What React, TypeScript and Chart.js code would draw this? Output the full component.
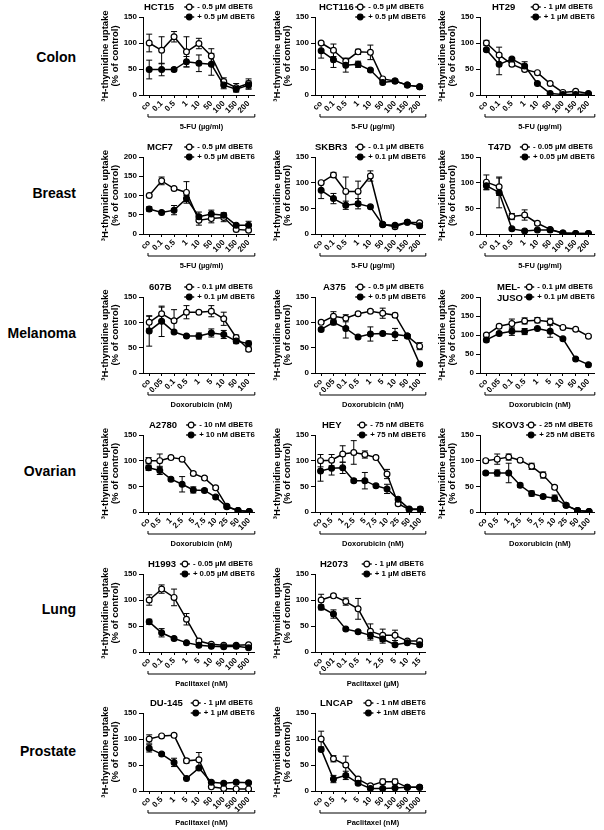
import React, { useEffect, useRef } from "react";
import { Chart, registerables } from "chart.js";
Chart.register(...registerables);
Chart.defaults.color = "#000";
Chart.defaults.font.family = "'Liberation Sans', Arial, sans-serif";

// ---------- categories ----------
const fuDoses = ["co", "0.1", "0.5", "1", "10", "50", "100", "150", "200"];
const melDoses = ["co", "0.05", "0.1", "0.5", "1", "5", "10", "50", "100"];
const ovDoses = ["co", "0.5", "1", "2.5", "5", "7.5", "10", "25", "50", "100"];
const h1993Doses = ["co", "0.1", "0.5", "1", "5", "10", "50", "100", "500"];
const h2073Doses = ["co", "0.01", "0.1", "0.5", "1", "2.5", "5", "10", "15"];
const prostateDoses = ["co", "0.5", "1", "5", "10", "50", "100", "500", "1000"];

// ---------- Colon ----------
const hct15Minus = [100, 86, 112, 83, 99, 75, 26, 14, 22];
const hct15MinusSd = [17, 26, 10, 29, 10, 14, 7, 8, 9];
const hct15Plus = [49, 49, 49, 64, 61, 59, 19, 11, 19];
const hct15PlusSd = [18, 12, 3, 10, 16, 21, 7, 5, 8];

const hct116Minus = [100, 86, 65, 83, 82, 31, 27, 19, 16];
const hct116MinusSd = [2, 12, 6, 5, 14, 3, 3, 2, 2];
const hct116Plus = [85, 68, 57, 59, 48, 24, 27, 19, 16];
const hct116PlusSd = [14, 15, 13, 6, 2, 3, 3, 2, 2];

const ht29Minus = [100, 77, 59, 49, 43, 22, 5, 7, 3];
const ht29MinusSd = [5, 15, 3, 3, 2, 2, 2, 2, 1];
const ht29Plus = [87, 59, 69, 56, 22, 3, 1, 1, 2];
const ht29PlusSd = [3, 20, 3, 8, 2, 1, 1, 1, 1];

// ---------- Breast ----------
const mcf7Minus = [100, 138, 118, 108, 36, 40, 43, 12, 10];
const mcf7MinusSd = [3, 10, 3, 28, 13, 11, 11, 4, 3];
const mcf7Plus = [65, 56, 62, 92, 45, 52, 49, 23, 23];
const mcf7PlusSd = [6, 3, 12, 8, 12, 10, 6, 4, 10];

const skbr3Minus = [100, 115, 83, 83, 113, 19, 14, 23, 22];
const skbr3MinusSd = [2, 5, 28, 20, 10, 3, 3, 2, 2];
const skbr3Plus = [85, 69, 56, 59, 53, 18, 17, 23, 16];
const skbr3PlusSd = [16, 10, 8, 10, 2, 3, 3, 2, 2];

const t47dMinus = [101, 92, 34, 37, 21, 9, 2, 1, 1];
const t47dMinusSd = [14, 17, 6, 10, 3, 2, 1, 1, 1];
const t47dPlus = [94, 81, 10, 6, 8, 8, 2, 1, 1];
const t47dPlusSd = [8, 30, 2, 1, 1, 1, 1, 1, 1];

// ---------- Melanoma ----------
const b607Minus = [100, 117, 103, 120, 120, 122, 107, 70, 47];
const b607MinusSd = [12, 13, 22, 13, 3, 11, 13, 5, 4];
const b607Plus = [83, 102, 81, 73, 73, 79, 76, 63, 58];
const b607PlusSd = [30, 30, 3, 3, 6, 8, 8, 5, 5];

const a375Minus = [100, 112, 108, 117, 122, 118, 114, 73, 53];
const a375MinusSd = [2, 9, 7, 3, 3, 10, 4, 3, 7];
const a375Plus = [86, 100, 88, 71, 77, 78, 76, 73, 18];
const a375PlusSd = [3, 5, 19, 3, 14, 3, 12, 3, 2];

const meljusoMinus = [100, 123, 130, 137, 139, 135, 120, 115, 97];
const meljusoMinusSd = [3, 5, 12, 8, 7, 9, 3, 3, 3];
const meljusoPlus = [87, 104, 110, 109, 117, 110, 90, 37, 22];
const meljusoPlusSd = [5, 4, 11, 8, 3, 16, 3, 3, 3];

// ---------- Ovarian ----------
const a2780Minus = [100, 100, 106, 103, 75, 66, 47, 11, 3, 1];
const a2780MinusSd = [6, 13, 3, 3, 3, 3, 3, 3, 2, 1];
const a2780Plus = [86, 81, 64, 54, 43, 42, 29, 10, 3, 1];
const a2780PlusSd = [5, 8, 3, 15, 6, 3, 3, 3, 2, 1];

const heyMinus = [100, 101, 113, 116, 112, 106, 74, 16, 5, 5];
const heyMinusSd = [12, 11, 16, 23, 7, 3, 9, 3, 2, 2];
const heyPlus = [80, 85, 86, 61, 61, 51, 45, 25, 6, 6];
const heyPlusSd = [20, 13, 11, 3, 16, 3, 9, 3, 2, 4];

const skov3Minus = [100, 103, 107, 101, 89, 72, 48, 13, 3, 1];
const skov3MinusSd = [3, 10, 6, 3, 6, 6, 3, 3, 2, 1];
const skov3Plus = [76, 76, 76, 52, 36, 30, 27, 13, 3, 1];
const skov3PlusSd = [3, 6, 19, 4, 5, 3, 6, 3, 2, 1];

// ---------- Lung ----------
const h1993Minus = [100, 121, 105, 63, 21, 15, 13, 13, 14];
const h1993MinusSd = [10, 8, 16, 11, 3, 2, 2, 2, 2];
const h1993Plus = [58, 37, 26, 18, 13, 11, 10, 11, 8];
const h1993PlusSd = [5, 8, 2, 2, 2, 2, 2, 2, 2];

const h2073Minus = [100, 108, 97, 83, 40, 32, 32, 21, 21];
const h2073MinusSd = [11, 3, 7, 20, 14, 12, 10, 3, 3];
const h2073Plus = [86, 73, 44, 39, 32, 25, 14, 18, 14];
const h2073PlusSd = [5, 8, 2, 2, 9, 8, 3, 3, 3];

// ---------- Prostate ----------
const du145Minus = [100, 106, 107, 58, 60, 8, 5, 4, 4];
const du145MinusSd = [8, 2, 2, 4, 14, 2, 2, 2, 2];
const du145Plus = [82, 71, 55, 24, 44, 17, 15, 17, 16];
const du145PlusSd = [7, 3, 8, 2, 3, 2, 2, 2, 2];

const lncapMinus = [100, 62, 50, 23, 10, 18, 18, 7, 7];
const lncapMinusSd = [15, 6, 17, 3, 3, 5, 5, 2, 2];
const lncapPlus = [80, 23, 30, 15, 5, 5, 6, 7, 7];
const lncapPlusSd = [3, 7, 8, 3, 2, 2, 2, 2, 2];

// ---------- text ----------
const rowLabels = ["Colon", "Breast", "Melanoma", "Ovarian", "Lung", "Prostate"];
const yTitle = ["\u00B3H-thymidine uptake", "(% of control)"];

// ---------- layout ----------
const colL = [143, 315, 480];
const colR = [255, 426, 595];
const rowT = [17, 157, 297, 435, 574, 713];
const rowB = [95, 234, 373, 512, 652, 791];
const rowLabelY = [57, 193, 333, 471, 609, 751];

type Panel = {
  name: string[];
  cats: string[];
  minus: number[];
  minusSd: number[];
  plus: number[];
  plusSd: number[];
  legMinus: string;
  legPlus: string;
  xTitle: string;
  yMax: number;
  row: number;
  col: number;
  titleDx: number;
};

const panels: Panel[] = [
  { name: ["HCT15"], cats: fuDoses, minus: hct15Minus, minusSd: hct15MinusSd, plus: hct15Plus, plusSd: hct15PlusSd, legMinus: "- 0.5 \u00B5M dBET6", legPlus: "+ 0.5 \u00B5M dBET6", xTitle: "5-FU (\u00B5g/ml)", yMax: 150, row: 0, col: 0, titleDx: 1 },
  { name: ["HCT116"], cats: fuDoses, minus: hct116Minus, minusSd: hct116MinusSd, plus: hct116Plus, plusSd: hct116PlusSd, legMinus: "- 0.5 \u00B5M dBET6", legPlus: "+ 0.5 \u00B5M dBET6", xTitle: "5-FU (\u00B5g/ml)", yMax: 150, row: 0, col: 1, titleDx: 4 },
  { name: ["HT29"], cats: fuDoses, minus: ht29Minus, minusSd: ht29MinusSd, plus: ht29Plus, plusSd: ht29PlusSd, legMinus: "- 1 \u00B5M dBET6", legPlus: "+ 1 \u00B5M dBET6", xTitle: "5-FU (\u00B5g/ml)", yMax: 150, row: 0, col: 2, titleDx: 12 },
  { name: ["MCF7"], cats: fuDoses, minus: mcf7Minus, minusSd: mcf7MinusSd, plus: mcf7Plus, plusSd: mcf7PlusSd, legMinus: "- 0.5 \u00B5M dBET6", legPlus: "+ 0.5 \u00B5M dBET6", xTitle: "5-FU (\u00B5g/ml)", yMax: 200, row: 1, col: 0, titleDx: 4 },
  { name: ["SKBR3"], cats: fuDoses, minus: skbr3Minus, minusSd: skbr3MinusSd, plus: skbr3Plus, plusSd: skbr3PlusSd, legMinus: "- 0.1 \u00B5M dBET6", legPlus: "+ 0.1 \u00B5M dBET6", xTitle: "5-FU (\u00B5g/ml)", yMax: 150, row: 1, col: 1, titleDx: 0 },
  { name: ["T47D"], cats: fuDoses, minus: t47dMinus, minusSd: t47dMinusSd, plus: t47dPlus, plusSd: t47dPlusSd, legMinus: "- 0.05 \u00B5M dBET6", legPlus: "+ 0.05 \u00B5M dBET6", xTitle: "5-FU (\u00B5g/ml)", yMax: 150, row: 1, col: 2, titleDx: 8 },
  { name: ["607B"], cats: melDoses, minus: b607Minus, minusSd: b607MinusSd, plus: b607Plus, plusSd: b607PlusSd, legMinus: "- 0.1 \u00B5M dBET6", legPlus: "+ 0.1 \u00B5M dBET6", xTitle: "Doxorubicin (nM)", yMax: 150, row: 2, col: 0, titleDx: 6 },
  { name: ["A375"], cats: melDoses, minus: a375Minus, minusSd: a375MinusSd, plus: a375Plus, plusSd: a375PlusSd, legMinus: "- 0.5 \u00B5M dBET6", legPlus: "+ 0.5 \u00B5M dBET6", xTitle: "Doxorubicin (nM)", yMax: 150, row: 2, col: 1, titleDx: 8 },
  { name: ["MEL-", "JUSO"], cats: melDoses, minus: meljusoMinus, minusSd: meljusoMinusSd, plus: meljusoPlus, plusSd: meljusoPlusSd, legMinus: "- 0.1 \u00B5M dBET6", legPlus: "+ 0.1 \u00B5M dBET6", xTitle: "Doxorubicin (nM)", yMax: 200, row: 2, col: 2, titleDx: 17 },
  { name: ["A2780"], cats: ovDoses, minus: a2780Minus, minusSd: a2780MinusSd, plus: a2780Plus, plusSd: a2780PlusSd, legMinus: "- 10 nM dBET6", legPlus: "+ 10 nM dBET6", xTitle: "Doxorubicin (nM)", yMax: 150, row: 3, col: 0, titleDx: 6 },
  { name: ["HEY"], cats: ovDoses, minus: heyMinus, minusSd: heyMinusSd, plus: heyPlus, plusSd: heyPlusSd, legMinus: "- 75 nM dBET6", legPlus: "+ 75 nM dBET6", xTitle: "Doxorubicin (nM)", yMax: 150, row: 3, col: 1, titleDx: 7 },
  { name: ["SKOV3"], cats: ovDoses, minus: skov3Minus, minusSd: skov3MinusSd, plus: skov3Plus, plusSd: skov3PlusSd, legMinus: "- 25 nM dBET6", legPlus: "+ 25 nM dBET6", xTitle: "Doxorubicin (nM)", yMax: 150, row: 3, col: 2, titleDx: 12 },
  { name: ["H1993"], cats: h1993Doses, minus: h1993Minus, minusSd: h1993MinusSd, plus: h1993Plus, plusSd: h1993PlusSd, legMinus: "- 0.05 \u00B5M dBET6", legPlus: "+ 0.05 \u00B5M dBET6", xTitle: "Paclitaxel (nM)", yMax: 150, row: 4, col: 0, titleDx: 5 },
  { name: ["H2073"], cats: h2073Doses, minus: h2073Minus, minusSd: h2073MinusSd, plus: h2073Plus, plusSd: h2073PlusSd, legMinus: "- 1 \u00B5M dBET6", legPlus: "+ 1 \u00B5M dBET6", xTitle: "Paclitaxel (\u00B5M)", yMax: 150, row: 4, col: 1, titleDx: 5 },
  { name: ["DU-145"], cats: prostateDoses, minus: du145Minus, minusSd: du145MinusSd, plus: du145Plus, plusSd: du145PlusSd, legMinus: "- 1 \u00B5M dBET6", legPlus: "+ 1 \u00B5M dBET6", xTitle: "Paclitaxel (nM)", yMax: 150, row: 5, col: 0, titleDx: 7 },
  { name: ["LNCAP"], cats: prostateDoses, minus: lncapMinus, minusSd: lncapMinusSd, plus: lncapPlus, plusSd: lncapPlusSd, legMinus: "- 1 nM dBET6", legPlus: "+ 1nM dBET6", xTitle: "Paclitaxel (nM)", yMax: 150, row: 5, col: 1, titleDx: 5 },
];

const FONT = "'Liberation Sans', Arial, sans-serif";
const Y_BOX = 48;
const X_BOX = 42;
const PAD_TOP = 17;
const PAD_RIGHT = 5;

function drawMarker(ctx: CanvasRenderingContext2D, cx: number, cy: number, open: boolean) {
  ctx.beginPath();
  ctx.moveTo(cx - 5, cy);
  ctx.lineTo(cx + 5, cy);
  ctx.lineWidth = 1.4;
  ctx.strokeStyle = "#000";
  ctx.stroke();
  ctx.beginPath();
  ctx.arc(cx, cy, 2.8, 0, Math.PI * 2);
  ctx.fillStyle = open ? "#fff" : "#000";
  ctx.fill();
  ctx.lineWidth = 1.2;
  ctx.stroke();
}

function PanelChart({ p }: { p: Panel }) {
  const ref = useRef<HTMLCanvasElement>(null);
  const L = colL[p.col];
  const R = colR[p.col];
  const T = rowT[p.row];
  const B = rowB[p.row];
  const left = L - Y_BOX;
  const top = T - PAD_TOP;
  const width = R - L + Y_BOX + PAD_RIGHT;
  const height = B - T + PAD_TOP + X_BOX;

  useEffect(() => {
    const sds = [p.plusSd, p.minusSd];
    const decor = {
      id: "decor",
      beforeDatasetsDraw(chart: any) {
        const ctx = chart.ctx as CanvasRenderingContext2D;
        const ys = chart.scales.y;
        ctx.save();
        ctx.strokeStyle = "#000";
        ctx.lineWidth = 1;
        chart.data.datasets.forEach((ds: any, i: number) => {
          const meta = chart.getDatasetMeta(i);
          ds.data.forEach((v: number, j: number) => {
            const e = sds[i][j];
            const x = meta.data[j].x;
            const y1 = ys.getPixelForValue(v + e);
            const y2 = ys.getPixelForValue(Math.max(v - e, 0));
            ctx.beginPath();
            ctx.moveTo(x, y1);
            ctx.lineTo(x, y2);
            ctx.moveTo(x - 3, y1);
            ctx.lineTo(x + 3, y1);
            ctx.moveTo(x - 3, y2);
            ctx.lineTo(x + 3, y2);
            ctx.stroke();
          });
        });
        ctx.restore();
      },
      afterDraw(chart: any) {
        const ctx = chart.ctx as CanvasRenderingContext2D;
        const a = chart.chartArea;
        ctx.save();
        ctx.fillStyle = "#000";
        ctx.font = `bold 9.5px ${FONT}`;
        ctx.textAlign = "left";
        ctx.textBaseline = "middle";
        p.name.forEach((s, k) => {
          ctx.fillText(s, a.left + p.titleDx, a.top - 10 + k * 11);
        });
        ctx.font = `bold 7.8px ${FONT}`;
        const w = Math.max(ctx.measureText(p.legMinus).width, ctx.measureText(p.legPlus).width);
        const tx = a.right - w;
        drawMarker(ctx, tx - 8, a.top - 10, true);
        drawMarker(ctx, tx - 8, a.top, false);
        ctx.fillStyle = "#000";
        ctx.fillText(p.legMinus, tx, a.top - 10);
        ctx.fillText(p.legPlus, tx, a.top);
        const bx1 = a.left + 5;
        const bx2 = a.right;
        const by = a.bottom + 22;
        ctx.strokeStyle = "#000";
        ctx.lineWidth = 1;
        ctx.beginPath();
        ctx.moveTo(bx1, by - 3);
        ctx.lineTo(bx1, by);
        ctx.lineTo(bx2, by);
        ctx.lineTo(bx2, by - 3);
        ctx.stroke();
        ctx.font = `bold 7.5px ${FONT}`;
        ctx.textAlign = "center";
        ctx.fillText(p.xTitle, (bx1 + bx2) / 2, a.bottom + 32);
        ctx.restore();
      },
    };

    const chart = new Chart(ref.current as HTMLCanvasElement, {
      type: "line",
      data: {
        labels: p.cats,
        datasets: [
          {
            data: p.plus,
            borderColor: "#000",
            backgroundColor: "#000",
            borderWidth: 1.5,
            pointRadius: 2.9,
            pointBorderWidth: 1.2,
            pointBackgroundColor: "#000",
            pointBorderColor: "#000",
            tension: 0,
          },
          {
            data: p.minus,
            borderColor: "#000",
            backgroundColor: "#fff",
            borderWidth: 1.5,
            pointRadius: 2.9,
            pointBorderWidth: 1.2,
            pointBackgroundColor: "#fff",
            pointBorderColor: "#000",
            tension: 0,
          },
        ],
      },
      options: {
        responsive: false,
        animation: false,
        devicePixelRatio: 1,
        layout: { padding: { top: PAD_TOP, right: PAD_RIGHT, left: 0, bottom: 0 } },
        plugins: { legend: { display: false }, tooltip: { enabled: false } },
        scales: {
          x: {
            type: "category",
            offset: true,
            afterFit: (s: any) => {
              s.height = X_BOX;
            },
            grid: { drawOnChartArea: false, drawTicks: true, tickLength: 3, color: "#000", lineWidth: 1 },
            border: { display: true, color: "#000", width: 1 },
            ticks: {
              autoSkip: false,
              maxRotation: 45,
              minRotation: 45,
              padding: 1,
              color: "#000",
              font: { size: 8, weight: "bold", family: FONT },
            },
          },
          y: {
            min: 0,
            max: p.yMax,
            afterFit: (s: any) => {
              s.width = Y_BOX;
            },
            grid: { drawOnChartArea: false, drawTicks: true, tickLength: 4, color: "#000", lineWidth: 1 },
            border: { display: true, color: "#000", width: 1 },
            ticks: {
              stepSize: 50,
              padding: 2,
              color: "#000",
              font: { size: 8, weight: "bold", family: FONT },
            },
            title: {
              display: true,
              text: yTitle,
              color: "#000",
              font: { size: 9.5, weight: "bold", family: FONT, lineHeight: 1.05 },
              padding: { top: 5, bottom: 0 },
            },
          },
        },
      } as any,
      plugins: [decor],
    });
    return () => chart.destroy();
  }, []);

  return (
    <canvas
      ref={ref}
      width={width}
      height={height}
      style={{ position: "absolute", left, top, width, height }}
    />
  );
}

export default function App() {
  return (
    <div
      style={{
        position: "absolute",
        left: 0,
        top: 0,
        width: 604,
        height: 830,
        overflow: "hidden",
        background: "#fff",
      }}
    >
      {rowLabels.map((r, i) => (
        <div
          key={r}
          style={{
            position: "absolute",
            right: 604 - 76,
            top: rowLabelY[i] - 9,
            height: 18,
            lineHeight: "18px",
            fontFamily: FONT,
            fontWeight: "bold",
            fontSize: 14,
            color: "#000",
            whiteSpace: "nowrap",
          }}
        >
          {r}
        </div>
      ))}
      {panels.map((p) => (
        <PanelChart key={p.name.join("")} p={p} />
      ))}
    </div>
  );
}
